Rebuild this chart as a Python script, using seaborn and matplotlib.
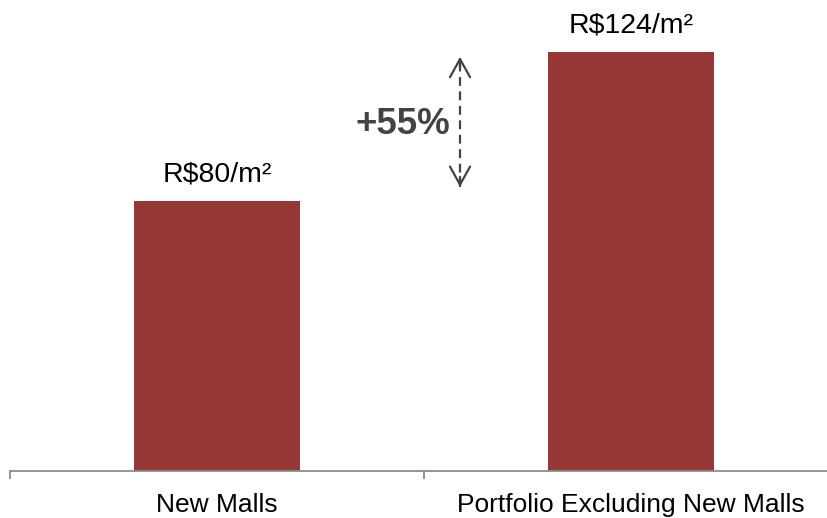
import matplotlib
matplotlib.use("Agg")
import matplotlib.pyplot as plt
import seaborn as sns
import pandas as pd

# Data
categories = ["New Malls", "Portfolio Excluding New Malls"]
values = [80, 124]
value_labels = ["R$80/m²", "R$124/m²"]
growth_label = "+55%"

sns.set_theme(style="white")
plt.rcParams["font.family"] = ["Liberation Sans", "DejaVu Sans"]

bar_color = "#953735"
axis_color = "#8c8c8c"
note_color = "#3f4448"

df = pd.DataFrame({"Category": categories, "Value": values})

fig = plt.figure(figsize=(8.27, 5.18), dpi=100)
ax = fig.add_axes([10 / 827, 47 / 518, 828 / 827, 471 / 518])

sns.barplot(data=df, x="Category", y="Value", color=bar_color,
            width=0.4, saturation=1, linewidth=0, ax=ax)

ax.set_xlim(-0.5, 1.5)
ax.set_ylim(0, 139.3)
ax.set_xlabel("")
ax.set_ylabel("")
ax.set_yticks([])

for side in ["left", "right", "top"]:
    ax.spines[side].set_visible(False)
ax.spines["bottom"].set_color(axis_color)
ax.spines["bottom"].set_linewidth(1.3)

# boundary ticks hanging below the axis, labels centred on the bars
ax.set_xticks([-0.5, 0.5, 1.5])
ax.set_xticklabels([])
ax.set_xticks([0, 1], minor=True)
ax.set_xticklabels(categories, minor=True, fontsize=19, color="black")
ax.tick_params(axis="x", which="major", length=6, width=1.3,
               color=axis_color, direction="out", bottom=True)
ax.tick_params(axis="x", which="minor", length=0, pad=16, bottom=True)

# value labels over the bars
for i, (v, lab) in enumerate(zip(values, value_labels)):
    ax.annotate(lab, (i, v), xytext=(0, 13.5), textcoords="offset points",
                ha="center", va="baseline", fontsize=20.5, color="black")

# dashed double arrow with solid open heads
arrow_x = 0.587
y_top = values[1] - 1.5
y_bot = values[0] + 4
ax.plot([arrow_x, arrow_x], [y_bot, y_top], color=note_color, lw=1.6,
        linestyle=(0, (4, 2.5)))
for tip, back in [(y_top, y_top - 3), (y_bot, y_bot + 3)]:
    ax.annotate("", xy=(arrow_x, tip), xytext=(arrow_x, back),
                arrowprops=dict(arrowstyle="->,head_length=0.45,head_width=0.25",
                                color=note_color, lw=1.6, mutation_scale=29,
                                shrinkA=0, shrinkB=0))
ax.text(0.45, (values[0] + values[1]) / 2 + 0.5, growth_label, ha="center",
        va="center", fontsize=26.5, fontweight="bold", color=note_color)

fig.savefig("out.png", dpi=100)
